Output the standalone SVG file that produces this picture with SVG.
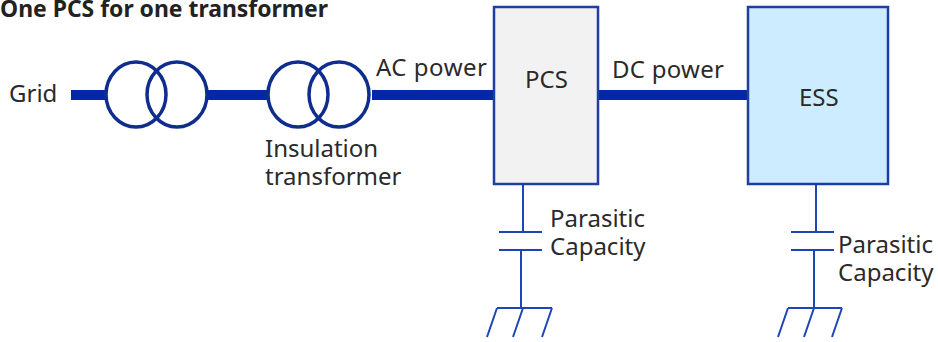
<svg xmlns="http://www.w3.org/2000/svg" width="938" height="342" viewBox="0 0 938 342">
<style>
text{font-family:"Noto Sans","Open Sans",sans-serif;font-size:24px;fill:#2a2a2a}
.title{font-size:22.500px;font-weight:700;fill:#222}
.bus{stroke:#0028a8;stroke-width:10;fill:none}
.coil{stroke:#0f2d8c;stroke-width:3.500;fill:none}
.box{stroke:#1f3f9e;stroke-width:2.500}
.thin{stroke:#1f45b5;stroke-width:2;fill:none}
</style>
<text class="title" x="0" y="17" textLength="328" lengthAdjust="spacingAndGlyphs">One PCS for one transformer</text>
<g id="connectors">
<path class="bus" d="M71 95H106M207 95H268M372 95H494M598 95H748"/>
<path class="thin" d="M523 184V232M499 232H542M499 250H542M521 250V308M816 184V232M791 232H834M791 250H834M814 250V308"/>
<path class="thin" d="M497 308H552M497 308L487 337M523 308L513 337M552 308L542 337"/>
<path class="thin" d="M788 308H842M788 308L778 337M814 308L804 337M842 308L832 337"/>
</g>
<g id="grid"><text x="9" y="102">Grid</text></g>
<g id="grid-transformer">
<ellipse class="coil" cx="136" cy="94.500" rx="30" ry="32.500"/>
<ellipse class="coil" cx="177" cy="94.500" rx="30" ry="32.500"/>
</g>
<g id="insulation-transformer">
<ellipse class="coil" cx="298" cy="94.500" rx="30" ry="32.500"/>
<ellipse class="coil" cx="339" cy="94.500" rx="30" ry="32.500"/>
<text x="265" y="157">Insulation</text>
<text x="265" y="185">transformer</text>
</g>
<text x="376" y="76" textLength="111">AC power</text>
<text x="612" y="78" textLength="112">DC power</text>
<g id="pcs">
<rect class="box" x="494" y="7" width="104" height="177" fill="#f2f2f2"/>
<text x="525" y="88">PCS</text>
</g>
<g id="ess">
<rect class="box" x="748" y="7" width="140" height="177" fill="#cdecff"/>
<text x="799" y="106">ESS</text>
</g>
<g id="pcs-capacity"><text x="550" y="227">Parasitic</text><text x="550" y="255">Capacity</text></g>
<g id="ess-capacity"><text x="838" y="253">Parasitic</text><text x="838" y="281">Capacity</text></g>
</svg>
